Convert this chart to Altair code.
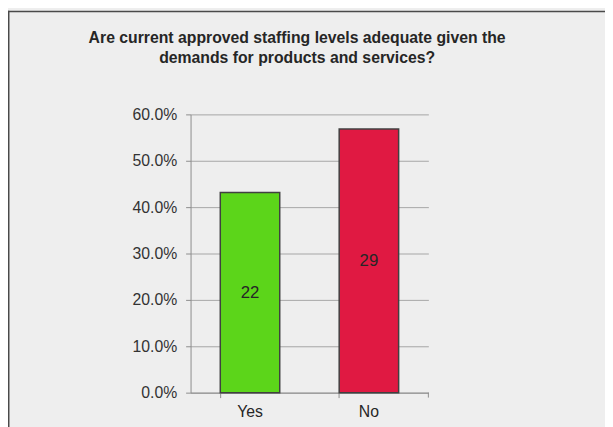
import altair as alt
import pandas as pd

categories = ["Yes", "No"]
counts = [22, 29]
shares = [22 / 51, 29 / 51]
colors = ["#5cd51a", "#e01942"]
y_ticks = [0.0, 0.1, 0.2, 0.3, 0.4, 0.5, 0.6]
title_lines = ["Are current approved staffing levels adequate given the",
               "demands for products and services?"]

df = pd.DataFrame({"answer": categories, "count": counts, "share": shares, "color": colors})

FONT = "Liberation Sans"
W, H = 241, 282

x_enc = alt.X("answer:N", sort=categories, title=None,
              scale=alt.Scale(paddingInner=0.5, paddingOuter=0.25),
              axis=alt.Axis(labelAngle=0, labelFont=FONT, labelFontSize=16, labelColor="#262626",
                            labelPadding=6, domainColor="#8c8c8c", tickColor="#8c8c8c",
                            tickSize=5, bandPosition=0, domainWidth=1))

bars = alt.Chart(df).mark_bar(stroke="#404040", strokeWidth=1.5).encode(
    x=x_enc,
    y=alt.Y("share:Q", title=None, scale=alt.Scale(domain=[0, 0.6]),
            axis=alt.Axis(values=y_ticks, format=".1%", labelFont=FONT, labelFontSize=16,
                          labelColor="#333333", labelPadding=9, domainColor="#8c8c8c",
                          tickColor="#8c8c8c", tickSize=5, gridColor="#a6a6a6", gridWidth=1)),
    color=alt.Color("color:N", scale=None),
)

labels = alt.Chart(df).transform_calculate(mid="datum.share / 2").mark_text(
    font=FONT, fontSize=17, color="#262626", baseline="middle"
).encode(
    x=alt.X("answer:N", sort=categories),
    y=alt.Y("mid:Q"),
    text="count:N",
)

title_df = pd.DataFrame({"line": title_lines, "i": [0, 1]})
title1 = alt.Chart(title_df.head(1)).mark_text(
    font=FONT, fontSize=16, fontWeight="bold", color="#262626", align="center", baseline="alphabetic"
).encode(x=alt.value(108), y=alt.value(-72), text="line:N")
title2 = alt.Chart(title_df.tail(1)).mark_text(
    font=FONT, fontSize=16, fontWeight="bold", color="#262626", align="center", baseline="alphabetic"
).encode(x=alt.value(108), y=alt.value(-52), text="line:N")

end_tick = alt.Chart(df.head(1)).mark_rule(color="#8c8c8c", strokeWidth=1).encode(
    x=alt.value(W), y=alt.value(H), y2=alt.value(H + 5)
)

border_v = alt.Chart(df.head(1)).mark_rule(color="#4a4a4a", strokeWidth=1.5).encode(
    x=alt.value(-184.25), y=alt.value(-105), y2=alt.value(H + 40)
)
border_h = alt.Chart(df.head(1)).mark_rule(color="#4a4a4a", strokeWidth=1.5).encode(
    y=alt.value(-104.25), x=alt.value(-185), x2=alt.value(W + 200)
)

chart = alt.layer(bars, labels, title1, title2, end_tick, border_v, border_h).properties(
    width=W, height=H,
    autosize=alt.AutoSizeParams(type="none"),
    padding={"left": 185, "top": 105, "right": 179, "bottom": 32},
    background="#eeeeee",
).configure_view(stroke=None).configure_axis(domainWidth=1)

chart.save("out.html", embed_options={"renderer": "svg", "actions": False})
